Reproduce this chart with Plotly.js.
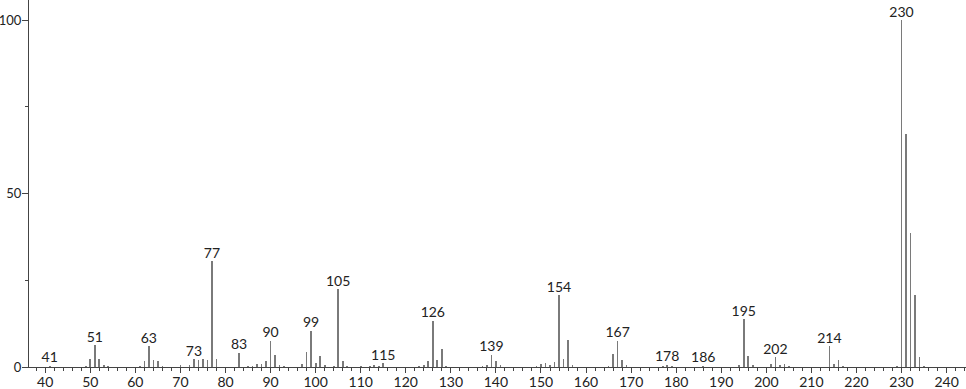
<!DOCTYPE html>
<html><head><meta charset="utf-8">
<script src="https://cdn.plot.ly/plotly-3.0.1.min.js"></script>
<style>html,body{margin:0;padding:0;background:#fff;}#chart{width:966px;height:389px;}</style>
</head><body><div id="chart"></div>
<script>
const mz = [41,49,50,51,52,53,54,61,62,63,64,65,66,70,72,73,74,75,76,77,78,83,85,86,87,88,89,90,91,92,93,97,98,99,100,101,102,104,105,106,107,110,112,113,114,115,123,124,125,126,127,128,129,137,138,139,140,141,149,150,151,152,153,154,155,156,157,165,166,167,168,169,177,178,179,186,194,195,196,197,201,202,203,204,205,214,215,216,217,229,230,231,232,233,234,235];
const intensity = [0.4,0.3,2.3,6.3,2.3,0.5,0.3,0.3,1.7,6.0,2.0,1.6,0.3,0.6,0.5,2.3,2.0,2.3,2.0,30.5,2.3,4.1,0.3,0.3,0.9,0.9,1.6,7.6,3.4,0.5,0.3,1.0,4.2,10.4,1.1,3.2,0.5,0.3,22.4,1.7,0.4,0.2,0.3,0.6,0.4,1.1,0.3,0.5,1.6,13.3,2.0,5.1,0.3,0.3,0.5,3.6,1.7,0.6,0.4,0.9,1.1,0.7,1.5,20.7,2.3,7.7,0.7,0.3,3.7,7.6,2.0,0.5,0.3,0.7,0.4,0.3,0.5,13.8,3.2,0.5,0.9,2.8,0.6,1.0,0.4,6.0,1.0,2.0,0.4,0.4,100,67.3,38.5,20.8,2.9,0.3];
const labeledMz = [41,51,63,73,77,83,90,99,105,115,126,139,154,167,178,186,195,202,214,230];
const labeledY = labeledMz.map(m => intensity[mz.indexOf(m)]);
const xTickVals = [40,50,60,70,80,90,100,110,120,130,140,150,160,170,180,190,200,210,220,230,240];
const yTickVals = [0,50,100];

const font = {family: 'Lato, "DejaVu Sans", sans-serif', size: 14, color: '#222'};
const yFont = {family: 'Lato, "DejaVu Sans", sans-serif', size: 13, color: '#222'};
const traces = [
  {type:'bar', x: mz, y: intensity, width: 0.38, marker:{color:'#7a7a7a', line:{width:0}}, hoverinfo:'x+y'},
  {type:'scatter', mode:'text', x: labeledMz, y: labeledY, text: labeledMz.map(String), textposition:'top center', textfont: font, hoverinfo:'skip', cliponaxis:false}
];
const layout = {
  width: 966, height: 389,
  margin: {l: 29, r: 0, t: 0, b: 22, pad: 0},
  paper_bgcolor: '#fff', plot_bgcolor: '#fff',
  showlegend: false, bargap: 0,
  font: font,
  xaxis: {range: [36.4, 244.3], showgrid: false, zeroline: false, showline: true, linecolor: '#444', linewidth: 1,
          ticks: 'outside', ticklen: 5, tickcolor: '#444', tickvals: xTickVals, ticktext: xTickVals.map(String),
          ticklabelstandoff: -3,
          tickfont: font, minor: {dtick: 2, tick0: 0, ticks: 'outside', ticklen: 3, tickcolor: '#444'}, fixedrange: true},
  yaxis: {range: [0, 105.8], showgrid: false, zeroline: false, showline: true, linecolor: '#444', linewidth: 1,
          ticks: 'outside', ticklen: 6, tickcolor: '#444', tickvals: yTickVals, ticktext: yTickVals.map(String),
          ticklabelstandoff: -2,
          tickfont: yFont, minor: {dtick: 25, tick0: 0, ticks: 'outside', ticklen: 3, tickcolor: '#444'}, fixedrange: true}
};
Plotly.newPlot('chart', traces, layout, {displayModeBar: false, staticPlot: true});
</script></body></html>
